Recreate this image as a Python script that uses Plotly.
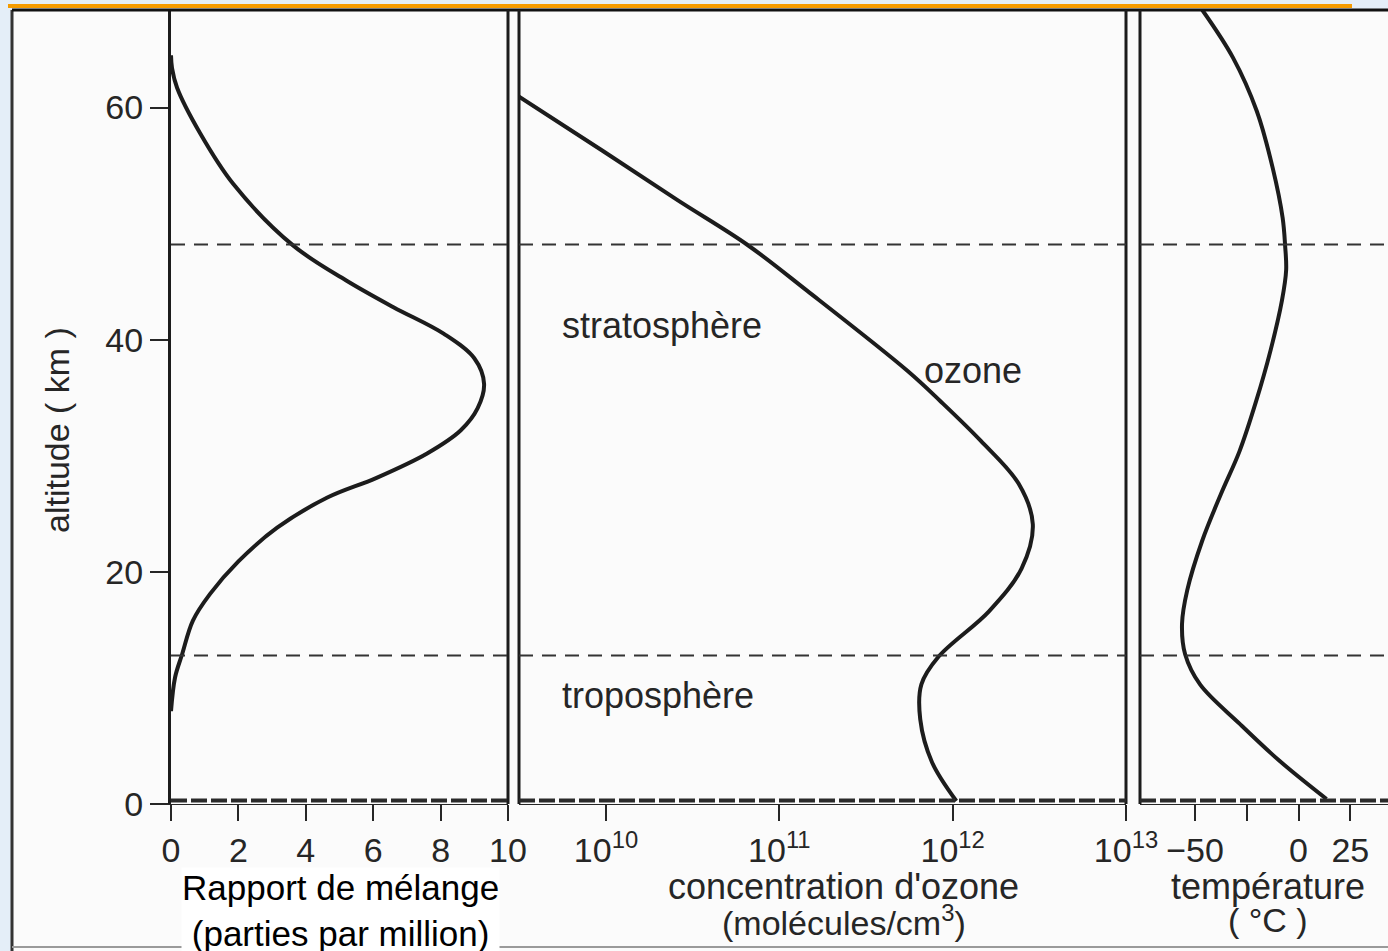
import plotly.graph_objects as go

# ---------------- data ----------------
# Panel 1: ozone mixing ratio (ppm) vs altitude (km)
mix_alt_km = [8.0, 10.9, 12.9, 15.8, 18.1, 20.9, 23.8, 26.4, 28.1, 30.2, 32.2, 34.1,
              36.2, 38.4, 40.5, 42.8, 45.1, 48.1, 53.4, 57.8, 61.7, 63.4, 64.5]
mix_ppm = [0.0, 0.12, 0.33, 0.65, 1.16, 2.0, 3.15, 4.64, 6.1, 7.6, 8.6, 9.1,
           9.29, 9.0, 8.1, 6.6, 5.2, 3.63, 1.85, 0.86, 0.18, 0.03, 0.0]

# Panel 2: ozone concentration (molecules/cm3) vs altitude (km)
conc_alt_km = [0.26, 3.6, 7.3, 10.3, 12.7, 16.6, 20.3, 24.1, 27.6, 31.3, 34.7,
               37.3, 44.2, 48.2, 52.0, 56.3, 61.0]
conc_molec_cm3 = [1.05e12, 7.6e11, 6.5e11, 6.6e11, 8.3e11, 1.62e12, 2.5e12, 2.9e12,
                  2.4e12, 1.45e12, 8.5e11, 5.5e11, 1.45e11, 6.5e10, 2.6e10, 9.5e9, 3.1e9]

# Panel 3: temperature (degC) vs altitude (km)
temp_alt_km = [0.43, 3.7, 6.9, 10.3, 12.9, 15.5, 18.4, 22.7, 26.7, 30.4, 34.7, 39.1,
               43.4, 46.0, 48.1, 50.5, 54.8, 59.7, 64.3, 68.4]
temp_c = [13.5, -9.1, -28.4, -47.6, -54.8, -56.3, -53.8, -46.5, -37.5, -28.5, -20.5,
          -13.5, -8.0, -6.0, -6.5, -7.7, -12.5, -20.2, -31.7, -46.5]

# layer boundaries (km)
tropopause_km = 12.8
stratopause_km = 48.2
ground_km = 0.3

# tick labels
alt_ticks = [0, 20, 40, 60]
mix_ticks = [0, 2, 4, 6, 8, 10]
conc_ticks = [1e10, 1e11, 1e12, 1e13]
conc_ticktext = ["10<sup>10</sup>", "10<sup>11</sup>", "10<sup>12</sup>", "10<sup>13</sup>"]
temp_ticks = [-50, 0, 25]
temp_ticktext = ["\u221250", "0", "25"]
temp_minor_ticks = [-25]

# ---------------- figure ----------------
W, H = 1388, 951
def px(x):
    return x / W
def py(y):
    return 1 - y / H

FONT = "Liberation Sans, Arial, Helvetica, sans-serif"
INK = "#262626"
line_style = dict(color="#1c1c1c", width=4, shape="spline", smoothing=1.0)

fig = go.Figure()
fig.add_trace(go.Scatter(x=mix_ppm, y=mix_alt_km, mode="lines", line=line_style,
                         xaxis="x", yaxis="y", showlegend=False, hoverinfo="skip"))
fig.add_trace(go.Scatter(x=conc_molec_cm3, y=conc_alt_km, mode="lines", line=line_style,
                         xaxis="x2", yaxis="y", showlegend=False, hoverinfo="skip"))
fig.add_trace(go.Scatter(x=temp_c, y=temp_alt_km, mode="lines", line=line_style,
                         xaxis="x3", yaxis="y", showlegend=False, hoverinfo="skip"))

common_x = dict(showgrid=False, zeroline=False, showline=True, linecolor=INK, linewidth=1,
                ticks="outside", ticklen=16, tickwidth=1.5, tickcolor=INK,
                tickfont=dict(family=FONT, size=34, color=INK), anchor="y",
                ticklabelstandoff=0, fixedrange=True, automargin=False)

fig.update_layout(
    width=W, height=H, autosize=False,
    margin=dict(l=0, r=0, t=0, b=0, pad=0, autoexpand=False),
    paper_bgcolor="#e4eef8",
    plot_bgcolor="rgba(0,0,0,0)",
    xaxis=dict(domain=[px(171), px(508)], range=[0, 10], tickmode="array",
               tickvals=mix_ticks, **common_x),
    xaxis2=dict(domain=[px(519), px(1126)], type="log", range=[9.498, 13],
                tickmode="array", tickvals=conc_ticks, ticktext=conc_ticktext, **common_x),
    xaxis3=dict(domain=[px(1140), 1.0], range=[-76.6, 43.2], tickmode="array",
                tickvals=temp_ticks, ticktext=temp_ticktext,
                minor=dict(tickmode="array", tickvals=temp_minor_ticks, ticks="outside",
                           ticklen=16, tickwidth=1.5, tickcolor=INK, showgrid=False),
                **common_x),
    yaxis=dict(domain=[py(804), py(10)], range=[0, 68.4], anchor="x",
               showgrid=False, zeroline=False, showline=True, linecolor="#1c1c1c",
               linewidth=3, ticks="outside", ticklen=18, tickwidth=1.5, tickcolor=INK,
               tickmode="array", tickvals=alt_ticks, automargin=False,
               tickfont=dict(family=FONT, size=34, color=INK), fixedrange=True),
)

shapes = []
# page background & frame
shapes.append(dict(type="rect", xref="paper", yref="paper", x0=px(12), x1=1.0,
                   y0=0, y1=py(10), fillcolor="#fbfbfb", line=dict(width=0), layer="below"))
shapes.append(dict(type="line", xref="paper", yref="paper", x0=px(12), x1=px(12),
                   y0=0, y1=py(10), line=dict(color="#333", width=3)))
shapes.append(dict(type="line", xref="paper", yref="paper", x0=px(12), x1=1.0,
                   y0=py(10), y1=py(10), line=dict(color="#111", width=3)))
shapes.append(dict(type="line", xref="paper", yref="paper", x0=px(8), x1=px(1352),
                   y0=py(6), y1=py(6), line=dict(color="#f59b00", width=4)))
shapes.append(dict(type="line", xref="paper", yref="paper", x0=px(12), x1=1.0,
                   y0=py(947), y1=py(947), line=dict(color="#9a9a9a", width=2)))

# panel borders
for xr, xs in (("x domain", [1]), ("x2 domain", [0, 1]), ("x3 domain", [0])):
    for xv in xs:
        shapes.append(dict(type="line", xref=xr, yref="y domain", x0=xv, x1=xv,
                           y0=0, y1=1, line=dict(color="#1c1c1c", width=3)))

# layer boundaries
for xr in ("x domain", "x2 domain", "x3 domain"):
    for alt in (tropopause_km, stratopause_km):
        shapes.append(dict(type="line", xref=xr, yref="y", x0=0, x1=1, y0=alt, y1=alt,
                           line=dict(color="#333", width=2, dash="14px,9px")))
    shapes.append(dict(type="line", xref=xr, yref="y", x0=0, x1=1, y0=ground_km, y1=ground_km,
                       line=dict(color="#2a2a2a", width=4, dash="16px,4px")))
fig.update_layout(shapes=shapes)

ann = []
def label(text, x, y, size=35, xanchor="center", color=INK, **kw):
    ann.append(dict(text=text, x=px(x), y=py(y), xref="paper", yref="paper",
                    xanchor=xanchor, yanchor="middle", showarrow=False,
                    font=dict(family=FONT, size=size, color=color), **kw))

label("altitude ( km )", 57, 430, size=34, textangle=-90)
label("Rapport de mélange<br>(parties par million)", 340, 910, size=35, color="#000",
      bgcolor="#ffffff", borderpad=0)
label("concentration d'ozone", 843, 886, size=36)
label("(molécules/cm<sup>3</sup>)", 844, 920, size=34)
label("température", 1268, 886, size=36)
label("( °C )", 1268, 920, size=34)
label("stratosphère", 560, 325, xanchor="left", size=36)
label("troposphère", 560, 695, xanchor="left", size=36)
label("ozone", 922, 370, xanchor="left", size=36)
fig.update_layout(annotations=ann)

fig.write_html("out.html", config={"displayModeBar": False},
               post_script="document.body.style.margin='0';document.body.style.overflow='hidden';")
